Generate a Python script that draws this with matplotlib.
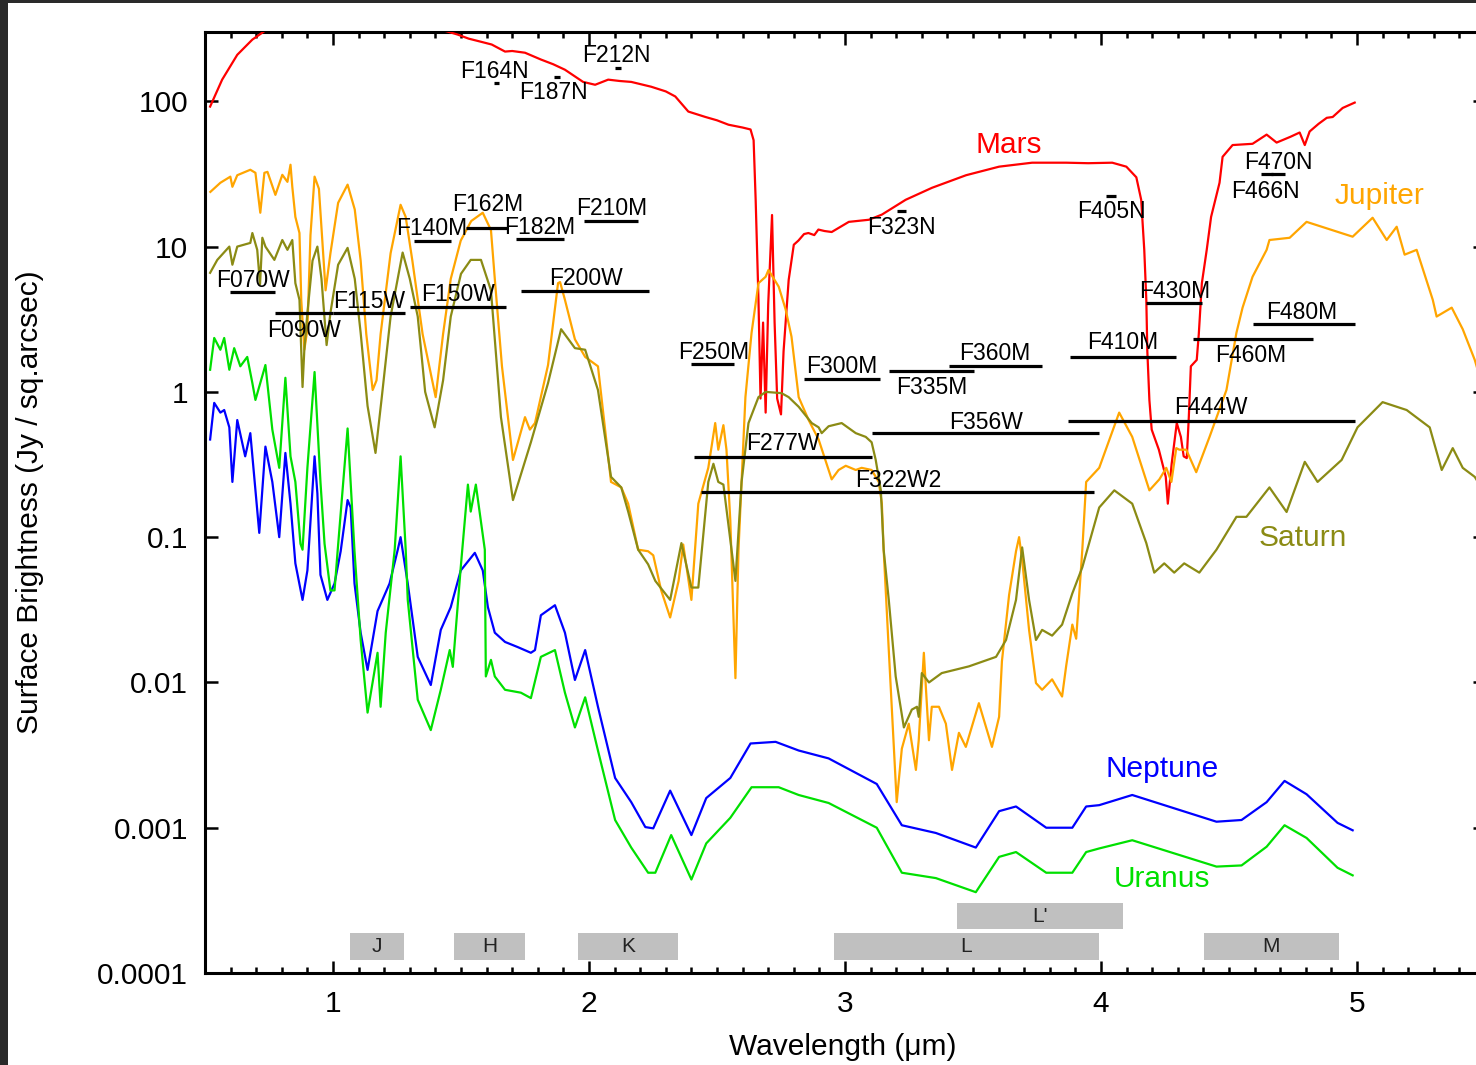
import numpy as np
import matplotlib.pyplot as plt
from matplotlib.patches import Rectangle
from matplotlib.ticker import FixedLocator, NullLocator

plt.rcParams['font.family'] = ['Liberation Sans', 'DejaVu Sans']

# ---- planet spectra: wavelength (micron), surface brightness (Jy / sq.arcsec)
mars_wl = [0.52, 0.567, 0.626, 0.685, 0.724, 0.76, 0.85, 1.0, 1.2, 1.35, 1.487, 1.53, 1.578, 1.62,
           1.672, 1.70, 1.750, 1.812, 1.86, 1.906, 1.977, 2.024, 2.075, 2.12, 2.165, 2.243, 2.30,
           2.337, 2.388, 2.455, 2.50, 2.545, 2.60, 2.631, 2.643, 2.651, 2.662, 2.67, 2.68, 2.69,
           2.70, 2.715, 2.725, 2.735, 2.75, 2.76, 2.78, 2.80, 2.818, 2.84, 2.857, 2.88, 2.896,
           2.92, 2.948, 3.015, 3.093, 3.144, 3.237, 3.340, 3.473, 3.602, 3.731, 3.864, 3.95,
           4.044, 4.099, 4.138, 4.157, 4.169, 4.177, 4.181, 4.189, 4.198, 4.226, 4.253, 4.261,
           4.276, 4.296, 4.312, 4.323, 4.335, 4.343, 4.351, 4.374, 4.382, 4.394, 4.413, 4.43,
           4.463, 4.475, 4.514, 4.592, 4.647, 4.686, 4.74, 4.776, 4.796, 4.815, 4.85, 4.882,
           4.905, 4.944, 4.991]
mars_sb = [92, 141, 209, 266, 297, 330, 380, 420, 400, 340, 288, 270, 257, 246,
           220, 222, 216, 194, 180, 165, 136, 130, 141, 138, 136, 126, 117,
           108, 85, 78, 74, 69, 66, 64, 54, 21, 4.3, 0.9, 3.0, 0.72,
           4.0, 16.5, 3.0, 0.9, 0.7, 1.9, 5.9, 10.3, 11.0, 12.2, 12.4, 12.0, 13.1,
           12.8, 12.6, 14.8, 15.3, 16.6, 21.0, 25.4, 31, 35.5, 37.8, 37.8, 37.5,
           37.8, 35.5, 30, 21, 9.5, 4.3, 1.9, 0.88, 0.55, 0.40, 0.26, 0.17,
           0.32, 0.61, 0.49, 0.36, 0.35, 0.67, 1.5, 1.66, 2.5, 5.6, 9.5, 16,
           27.5, 41.5, 50, 51, 59, 52, 57, 61, 50, 62, 70, 77,
           78, 90, 98]

jupiter_wl = [0.521, 0.56, 0.599, 0.607, 0.626, 0.677, 0.697, 0.716, 0.732, 0.744, 0.775, 0.802,
              0.822, 0.834, 0.841, 0.853, 0.869, 0.876, 0.888, 0.900, 0.912, 0.928, 0.945, 0.96,
              0.971, 0.99, 1.02, 1.057, 1.085, 1.108, 1.13, 1.155, 1.17, 1.186, 1.225, 1.264,
              1.284, 1.31, 1.35, 1.401, 1.43, 1.46, 1.499, 1.54, 1.585, 1.617, 1.632, 1.66,
              1.703, 1.75, 1.769, 1.789, 1.84, 1.879, 1.887, 1.906, 1.945, 1.985, 2.035, 2.086,
              2.126, 2.153, 2.192, 2.231, 2.251, 2.282, 2.317, 2.35, 2.368, 2.40, 2.427, 2.466,
              2.493, 2.505, 2.525, 2.537, 2.552, 2.572, 2.584, 2.596, 2.611, 2.635, 2.662, 2.69,
              2.701, 2.741, 2.768, 2.791, 2.819, 2.858, 2.897, 2.936, 2.948, 2.975, 3.003, 3.042,
              3.065, 3.104, 3.132, 3.144, 3.151, 3.171, 3.202, 3.222, 3.249, 3.277, 3.288, 3.308,
              3.328, 3.339, 3.367, 3.394, 3.418, 3.445, 3.472, 3.523, 3.574, 3.602, 3.613, 3.641,
              3.668, 3.68, 3.692, 3.719, 3.746, 3.77, 3.809, 3.848, 3.864, 3.888, 3.903, 3.927,
              3.942, 3.993, 4.071, 4.122, 4.189, 4.228, 4.255, 4.275, 4.294, 4.306, 4.333, 4.372,
              4.424, 4.49, 4.529, 4.553, 4.592, 4.647, 4.658, 4.737, 4.803, 4.983, 5.061, 5.116,
              5.155, 5.186, 5.233, 5.296, 5.311, 5.37, 5.413, 5.46, 5.50]
jupiter_sb = [23.8, 27.5, 30.3, 25.8, 31, 33.8, 32.2, 17.1, 32.2, 32.7, 22.7, 31.2,
              27.9, 36.6, 25.8, 16.0, 12.4, 4.3, 1.95, 2.7, 12, 30.3, 25, 10,
              5.0, 9, 20, 26.7, 18, 8, 2.5, 1.03, 1.2, 2.5, 9, 19.4,
              16, 8, 2.5, 0.92, 2.5, 6, 11, 15, 17.1, 13, 6, 1.5,
              0.34, 0.67, 0.55, 0.61, 1.53, 5.6, 5.7, 4.3, 2.3, 1.74, 1.5, 0.24,
              0.22, 0.17, 0.082, 0.08, 0.075, 0.043, 0.028, 0.05, 0.089, 0.037, 0.17, 0.30,
              0.61, 0.40, 0.59, 0.40, 0.13, 0.0107, 0.082, 0.24, 0.92, 2.55, 5.6, 6.2,
              6.9, 5.3, 3.7, 2.4, 0.92, 0.64, 0.47, 0.29, 0.25, 0.29, 0.31, 0.29,
              0.30, 0.29, 0.24, 0.17, 0.082, 0.0167, 0.0015, 0.0035, 0.0052, 0.0025, 0.004, 0.016,
              0.004, 0.0068, 0.0068, 0.0052, 0.0025, 0.0045, 0.0036, 0.0072, 0.0036, 0.0058, 0.014, 0.04,
              0.08, 0.10, 0.07, 0.023, 0.0099, 0.0089, 0.0105, 0.008, 0.013, 0.025, 0.020, 0.082,
              0.24, 0.30, 0.72, 0.49, 0.21, 0.25, 0.30, 0.24, 0.41, 0.40, 0.40, 0.28,
              0.49, 1.03, 2.55, 3.8, 6.2, 9.5, 11.1, 11.5, 14.8, 11.7, 15.8, 11.1,
              13.7, 8.8, 9.5, 4.3, 3.3, 3.8, 2.7, 1.66, 0.95]

saturn_wl = [0.52, 0.548, 0.595, 0.607, 0.626, 0.677, 0.685, 0.704, 0.715, 0.724, 0.736, 0.771,
             0.802, 0.822, 0.841, 0.853, 0.869, 0.881, 0.888, 0.90, 0.92, 0.939, 0.955, 0.975,
             0.99, 1.02, 1.057, 1.085, 1.108, 1.135, 1.166, 1.19, 1.225, 1.272, 1.30, 1.331,
             1.36, 1.397, 1.43, 1.46, 1.50, 1.538, 1.578, 1.617, 1.656, 1.703, 1.773, 1.84,
             1.891, 1.945, 1.985, 2.035, 2.086, 2.126, 2.153, 2.192, 2.231, 2.259, 2.317, 2.361,
             2.40, 2.427, 2.466, 2.486, 2.505, 2.525, 2.545, 2.572, 2.596, 2.623, 2.662, 2.69,
             2.752, 2.78, 2.819, 2.87, 2.897, 2.909, 2.936, 2.987, 3.042, 3.081, 3.104, 3.12,
             3.14, 3.151, 3.171, 3.198, 3.23, 3.261, 3.281, 3.288, 3.30, 3.328, 3.378, 3.484,
             3.59, 3.629, 3.668, 3.692, 3.719, 3.746, 3.77, 3.809, 3.848, 3.888, 3.927, 3.993,
             4.052, 4.122, 4.177, 4.208, 4.247, 4.286, 4.325, 4.384, 4.451, 4.529, 4.568, 4.658,
             4.725, 4.796, 4.846, 4.94, 5.002, 5.10, 5.194, 5.284, 5.331, 5.374, 5.413, 5.46, 5.50]
saturn_sb = [6.6, 8.1, 10, 7.5, 10.0, 10.6, 12.4, 9.5, 5.5, 11.5, 10, 8.1,
             11.1, 9.5, 11.1, 5.6, 4.3, 1.08, 1.95, 3.5, 8, 10, 6, 2.1,
             3.5, 7.5, 9.8, 6, 2.55, 0.8, 0.38, 0.9, 3.3, 9.1, 6, 3.3,
             1.0, 0.57, 1.2, 3.3, 6.5, 8.1, 8.1, 5.0, 0.67, 0.18, 0.45, 1.15,
             2.7, 2.0, 1.95, 1.03, 0.26, 0.22, 0.15, 0.082, 0.065, 0.05, 0.037, 0.091,
             0.045, 0.045, 0.24, 0.32, 0.24, 0.23, 0.12, 0.05, 0.24, 0.61, 0.92, 1.0,
             0.98, 0.92, 0.79, 0.61, 0.57, 0.52, 0.58, 0.61, 0.52, 0.49, 0.45, 0.34,
             0.21, 0.082, 0.037, 0.011, 0.0049, 0.0065, 0.0068, 0.0058, 0.0116, 0.010, 0.0116, 0.0129,
             0.015, 0.0196, 0.037, 0.085, 0.037, 0.0196, 0.023, 0.021, 0.025, 0.041, 0.062, 0.16,
             0.21, 0.17, 0.091, 0.057, 0.066, 0.057, 0.066, 0.057, 0.082, 0.138, 0.138, 0.22,
             0.149, 0.33, 0.24, 0.34, 0.57, 0.85, 0.75, 0.57, 0.29, 0.41, 0.30, 0.26, 0.2]

neptune_wl = [0.52, 0.536, 0.56, 0.575, 0.595, 0.607, 0.626, 0.657, 0.677, 0.712, 0.736, 0.763,
              0.79, 0.814, 0.834, 0.853, 0.881, 0.90, 0.928, 0.939, 0.951, 0.978, 1.006, 1.03,
              1.057, 1.069, 1.084, 1.108, 1.135, 1.174, 1.221, 1.253, 1.264, 1.292, 1.331, 1.382,
              1.421, 1.46, 1.499, 1.554, 1.585, 1.605, 1.632, 1.672, 1.722, 1.773, 1.789, 1.812,
              1.867, 1.906, 1.945, 1.985, 2.035, 2.102, 2.165, 2.22, 2.251, 2.317, 2.40, 2.458,
              2.552, 2.631, 2.729, 2.819, 2.936, 3.124, 3.222, 3.355, 3.511, 3.602, 3.668, 3.786,
              3.888, 3.942, 3.993, 4.122, 4.451, 4.549, 4.647, 4.717, 4.803, 4.924, 4.983]
neptune_sb = [0.47, 0.84, 0.72, 0.75, 0.57, 0.24, 0.64, 0.36, 0.52, 0.107, 0.42, 0.24,
              0.10, 0.38, 0.17, 0.066, 0.037, 0.059, 0.36, 0.2, 0.055, 0.037, 0.048, 0.08,
              0.18, 0.16, 0.048, 0.022, 0.0122, 0.031, 0.048, 0.082, 0.10, 0.048, 0.015, 0.0096,
              0.023, 0.033, 0.059, 0.078, 0.059, 0.033, 0.022, 0.019, 0.0175, 0.016, 0.0167, 0.029,
              0.034, 0.022, 0.0104, 0.0167, 0.0068, 0.0022, 0.0015, 0.00101, 0.00099, 0.0018, 0.00089, 0.0016,
              0.0022, 0.0038, 0.0039, 0.0034, 0.0030, 0.0020, 0.00104, 0.00092, 0.00073, 0.0013, 0.0014, 0.0010,
              0.0010, 0.0014, 0.00143, 0.00168, 0.0011, 0.00113, 0.0015, 0.0021, 0.0017, 0.00108, 0.00096]

uranus_wl = [0.52, 0.536, 0.56, 0.575, 0.595, 0.614, 0.638, 0.665, 0.685, 0.697, 0.736, 0.763,
             0.79, 0.814, 0.834, 0.853, 0.873, 0.881, 0.90, 0.928, 0.951, 0.967, 0.99, 1.006,
             1.018, 1.057, 1.084, 1.108, 1.135, 1.174, 1.186, 1.206, 1.241, 1.264, 1.284, 1.292,
             1.331, 1.382, 1.421, 1.456, 1.468, 1.499, 1.527, 1.538, 1.558, 1.593, 1.597, 1.617,
             1.632, 1.672, 1.734, 1.773, 1.812, 1.867, 1.906, 1.945, 1.985, 2.035, 2.102, 2.165,
             2.231, 2.259, 2.321, 2.40, 2.458, 2.552, 2.635, 2.741, 2.819, 2.936, 3.124, 3.222,
             3.355, 3.511, 3.602, 3.668, 3.786, 3.888, 3.942, 3.993, 4.122, 4.451, 4.549, 4.647,
             4.717, 4.803, 4.924, 4.983]
uranus_sb = [1.42, 2.35, 1.95, 2.35, 1.42, 2.0, 1.5, 1.74, 1.15, 0.88, 1.53, 0.55,
             0.30, 1.25, 0.36, 0.24, 0.09, 0.082, 0.3, 1.37, 0.24, 0.09, 0.043, 0.043,
             0.08, 0.56, 0.08, 0.0196, 0.0062, 0.016, 0.0068, 0.022, 0.082, 0.36, 0.082, 0.037,
             0.0076, 0.0047, 0.0089, 0.0167, 0.0128, 0.062, 0.23, 0.15, 0.23, 0.082, 0.011, 0.0143,
             0.011, 0.0089, 0.0085, 0.0078, 0.015, 0.0167, 0.0085, 0.0049, 0.0079, 0.0034, 0.00113, 0.00073,
             0.00049, 0.00049, 0.00089, 0.00044, 0.00078, 0.00117, 0.0019, 0.0019, 0.00168, 0.00148, 0.0010, 0.00049,
             0.00045, 0.00036, 0.00063, 0.00068, 0.00049, 0.00049, 0.00068, 0.00072, 0.00082, 0.00054, 0.00055, 0.00074,
             0.00104, 0.00085, 0.00053, 0.00047]

# ---- NIRCam filters: name, blue edge, red edge, bar level, label anchor (wl, sb)
filter_names = ['F070W', 'F090W', 'F115W', 'F150W', 'F200W', 'F140M', 'F162M', 'F182M', 'F210M',
                'F164N', 'F187N', 'F212N', 'F250M', 'F300M', 'F335M', 'F360M', 'F277W', 'F322W2',
                'F356W', 'F410M', 'F430M', 'F460M', 'F480M', 'F444W', 'F323N', 'F405N', 'F466N',
                'F470N']
filter_lo = [0.599, 0.775, 1.0, 1.30, 1.734, 1.315, 1.519, 1.715, 1.981,
             1.63, 1.863, 2.10, 2.397, 2.838, 3.171, 3.406, 2.412, 2.439,
             3.104, 3.88, 4.177, 4.361, 4.592, 3.872, 3.205, 4.02, 4.625,
             4.665]
filter_hi = [0.775, 1.0, 1.28, 1.675, 2.235, 1.46, 1.683, 1.902, 2.192,
             1.65, 1.885, 2.125, 2.566, 3.136, 3.504, 3.77, 3.104, 3.974,
             3.993, 4.294, 4.393, 4.827, 4.991, 4.991, 3.24, 4.06, 4.672,
             4.72]
filter_level = [4.9, 3.5, 3.5, 3.85, 4.96, 11.0, 13.5, 11.3, 15.1,
                134, 148, 170, 1.56, 1.23, 1.40, 1.51, 0.356, 0.205,
                0.52, 1.74, 4.1, 2.3, 2.94, 0.63, 17.7, 22.4, 31.7,
                31.7]
label_wl = [0.689, 0.888, 1.143, 1.487, 1.989, 1.386, 1.605, 1.809, 2.087,
            1.632, 1.863, 2.106, 2.486, 2.987, 3.339, 3.586, 2.756, 3.207,
            3.551, 4.084, 4.287, 4.585, 4.785, 4.429, 3.222, 4.040, 4.643,
            4.694]
label_sb = [5.81, 2.63, 4.17, 4.66, 6.0, 13.3, 19.4, 13.5, 18.2,
            160, 115, 206, 1.86, 1.49, 1.065, 1.83, 0.438, 0.244,
            0.62, 2.17, 4.89, 1.77, 3.5, 0.776, 13.5, 17.4, 23.8,
            37.8]

# ---- ground-based photometric bands
band_names = ['J', 'H', 'K', 'L', "L'", 'M']
band_lo = [1.065, 1.472, 1.957, 2.956, 3.437, 4.404]
band_hi = [1.276, 1.75, 2.349, 3.993, 4.087, 4.928]
band_row = [0, 0, 0, 0, 1, 0]

fig = plt.figure(figsize=(14.76, 10.65), dpi=100)
fig.patch.set_facecolor('#2a2a2a')
fig.add_artist(Rectangle((8 / 1476, 0), 1, 1 - 3 / 1065, transform=fig.transFigure,
                         facecolor='white', edgecolor='none', zorder=-5))

ax = fig.add_axes([205 / 1476, 1 - 973 / 1065, 1280 / 1476, 941 / 1065])
ax.set_xlim(0.5, 5.5)
ax.set_yscale('log')
ax.set_ylim(1e-4, 300)

spectra = [(mars_wl, mars_sb, '#ff0000'),
           (jupiter_wl, jupiter_sb, '#ffa500'),
           (saturn_wl, saturn_sb, '#8b8b14'),
           (neptune_wl, neptune_sb, '#0000ff'),
           (uranus_wl, uranus_sb, '#00e000')]
for wl, sb, col in spectra:
    ax.plot(wl, sb, color=col, lw=1.6, zorder=3)

# filter bandpasses
for name, lo, hi, lev, lx, ly in zip(filter_names, filter_lo, filter_hi, filter_level,
                                     label_wl, label_sb):
    ax.hlines(lev, lo, hi, color='black', lw=2.3, zorder=4)
    ax.text(lx, ly, name, fontsize=16.5, ha='center', va='center', color='black', zorder=5)

# photometric band boxes
row_lo = [1.22e-4, 2.0e-4]
row_hi = [1.9e-4, 3.03e-4]
for name, lo, hi, row in zip(band_names, band_lo, band_hi, band_row):
    ax.add_patch(Rectangle((lo, row_lo[row]), hi - lo, row_hi[row] - row_lo[row],
                           facecolor='#c0c0c0', edgecolor='none', zorder=2))
    ax.text((lo + hi) / 2, np.sqrt(row_lo[row] * row_hi[row]), name, fontsize=15,
            ha='center', va='center', color='#222222', zorder=5)

# planet names
ax.text(3.641, 50, 'Mars', color='#ff0000', fontsize=21.5, ha='center', va='center')
ax.text(5.089, 22.4, 'Jupiter', color='#ffa500', fontsize=21.5, ha='center', va='center')
ax.text(4.789, 0.0986, 'Saturn', color='#8b8b14', fontsize=21.5, ha='center', va='center')
ax.text(4.24, 0.00253, 'Neptune', color='#0000ff', fontsize=21.5, ha='center', va='center')
ax.text(4.24, 0.000443, 'Uranus', color='#00e000', fontsize=21.5, ha='center', va='center')

# axes styling
ax.xaxis.set_major_locator(FixedLocator([1, 2, 3, 4, 5]))
ax.xaxis.set_minor_locator(FixedLocator([x / 10 for x in range(6, 55) if x % 10 != 0]))
ax.yaxis.set_major_locator(FixedLocator([1e-4, 1e-3, 1e-2, 1e-1, 1, 10, 100]))
ax.yaxis.set_minor_locator(NullLocator())
ax.set_yticklabels(['0.0001', '0.001', '0.01', '0.1', '1', '10', '100'])
ax.set_xticklabels(['1', '2', '3', '4', '5'])
ax.tick_params(which='both', direction='in', top=True, right=True, width=1.8,
               labelsize=21.5, colors='black')
ax.tick_params(which='major', length=9, pad=12)
ax.tick_params(which='minor', length=4.5)
for sp in ax.spines.values():
    sp.set_linewidth(2.2)

ax.set_xlabel('Wavelength (\u03bcm)', fontsize=21.5)
ax.set_ylabel('Surface Brightness (Jy / sq.arcsec)', fontsize=21.5)
ax.xaxis.set_label_coords(0.498, -0.0635)
ax.yaxis.set_label_coords(-0.1255, 0.5)

fig.savefig('out.png', dpi=100)
